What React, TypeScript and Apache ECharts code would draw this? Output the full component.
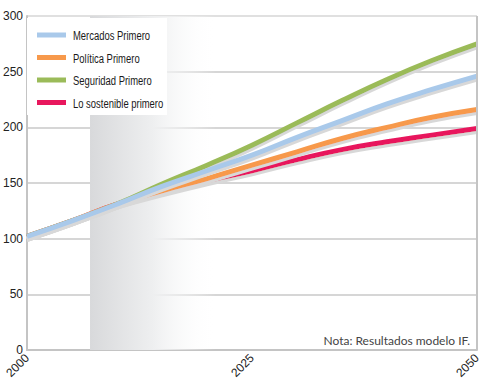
import React, { useEffect, useRef } from "react";
import * as echarts from "echarts";

const years = [2000, 2005, 2010, 2015, 2020, 2025, 2030, 2035, 2040, 2045, 2050];
const mercados = [102, 116, 131, 147, 161, 175, 191, 206, 221, 234, 246];
const politica = [102, 116, 131, 143, 154, 166, 178, 190, 200, 209, 216];
const seguridad = [102, 116, 131, 149, 166, 184, 204, 224, 243, 260, 275];
const sostenible = [102, 116, 131, 142, 152, 161, 171, 180, 187, 193, 199];
const seriesNames = ["Mercados Primero", "Política Primero", "Seguridad Primero", "Lo sostenible primero"];
const colors = ["#a9c9ea", "#f7994b", "#9bbb59", "#e8175d"];
const shadeRange = [2007, 2021];
const note = "Nota: Resultados modelo IF.";

const FONT = "Liberation Sans Narrow, Liberation Sans, Arial, sans-serif";

export default function App() {
  const ref = useRef<HTMLDivElement>(null);
  useEffect(() => {
    const chart = echarts.init(ref.current!, null, { renderer: "svg" });
    const mk = (name: string, vals: number[], color: string, z: number, withArea: boolean) => ({
      name,
      type: "line",
      data: years.map((y, i) => [y, vals[i]]),
      showSymbol: false,
      smooth: 0.5,
      z,
      color,
      lineStyle: {
        width: 5,
        color,
        shadowColor: "#d8d8d8",
        shadowBlur: 0,
        shadowOffsetY: 3,
      },
      markArea: withArea
        ? {
            silent: true,
            itemStyle: {
              color: new echarts.graphic.LinearGradient(0, 0, 1, 0, [
                { offset: 0, color: "#d8d9db" },
                { offset: 0.5, color: "#eeeff0" },
                { offset: 1, color: "rgba(255,255,255,0)" },
              ]),
            },
            data: [[{ xAxis: shadeRange[0] }, { xAxis: shadeRange[1] }]],
          }
        : undefined,
    });

    const legendItems: any[] = [
      { type: "rect", z: 100, shape: { x: 0, y: 0, width: 140, height: 97 }, style: { fill: "#ffffff" } },
    ];
    seriesNames.forEach((n, i) => {
      const cy = 17 + i * 22.5;
      legendItems.push({
        type: "rect",
        z: 101,
        shape: { x: 10, y: cy - 2.5, width: 29, height: 5 },
        style: { fill: colors[i] },
      });
      legendItems.push({
        type: "text",
        z: 101,
        x: 46,
        y: cy,
        scaleX: 0.7,
        style: {
          text: n,
          fontFamily: "Liberation Sans, Arial, sans-serif",
          fontSize: 13.5,
          fill: "#1a1a1a",
          verticalAlign: "middle",
          align: "left",
        },
      });
    });

    chart.setOption({
      animation: false,
      grid: { left: 26, right: 9, top: 16, bottom: 34, containLabel: false },
      xAxis: {
        type: "value",
        min: 2000,
        max: 2050,
        interval: 25,
        axisLine: { show: true, lineStyle: { color: "#c4c4c4", width: 2 } },
        axisTick: { show: false },
        splitLine: { show: false },
        axisLabel: {
          rotate: 45,
          fontFamily: FONT,
          fontSize: 12,
          color: "#222",
          margin: 6,
          formatter: (v: number) => String(v),
        },
      },
      yAxis: {
        type: "value",
        min: 0,
        max: 300,
        interval: 50,
        axisLine: { show: true, lineStyle: { color: "#c4c4c4", width: 2 } },
        axisTick: { show: false },
        splitLine: {
          show: true,
          lineStyle: {
            color: ["#c8c8c8", "#c8c8c8", "#c8c8c8", "#c8c8c8", "#c8c8c8", "#c8c8c8", "#d6d6d6"],
            width: 1.5,
          },
        },
        axisLabel: { fontFamily: FONT, fontSize: 12, color: "#222", margin: 4, align: "right" },
      },
      graphic: [
        {
          type: "line",
          z: 10,
          shape: { x1: 477, y1: 16, x2: 477, y2: 350 },
          style: { stroke: "#c4c4c4", lineWidth: 2 },
        },
        {
          type: "group",
          left: 27,
          top: 18,
          z: 100,
          children: legendItems,
        },
        {
          type: "text",
          z: 10,
          right: 16,
          top: 334,
          style: { text: note, font: "12px Lato, 'Open Sans', sans-serif", fill: "#444" },
        },
      ],
      series: [
        mk(seriesNames[3], sostenible, colors[3], 3, true),
        mk(seriesNames[1], politica, colors[1], 4, false),
        mk(seriesNames[2], seguridad, colors[2], 5, false),
        mk(seriesNames[0], mercados, colors[0], 6, false),
      ],
    });
    return () => chart.dispose();
  }, []);
  return (
    <div
      ref={ref}
      style={{ position: "absolute", left: 0, top: 0, width: 486, height: 384 }}
    />
  );
}
